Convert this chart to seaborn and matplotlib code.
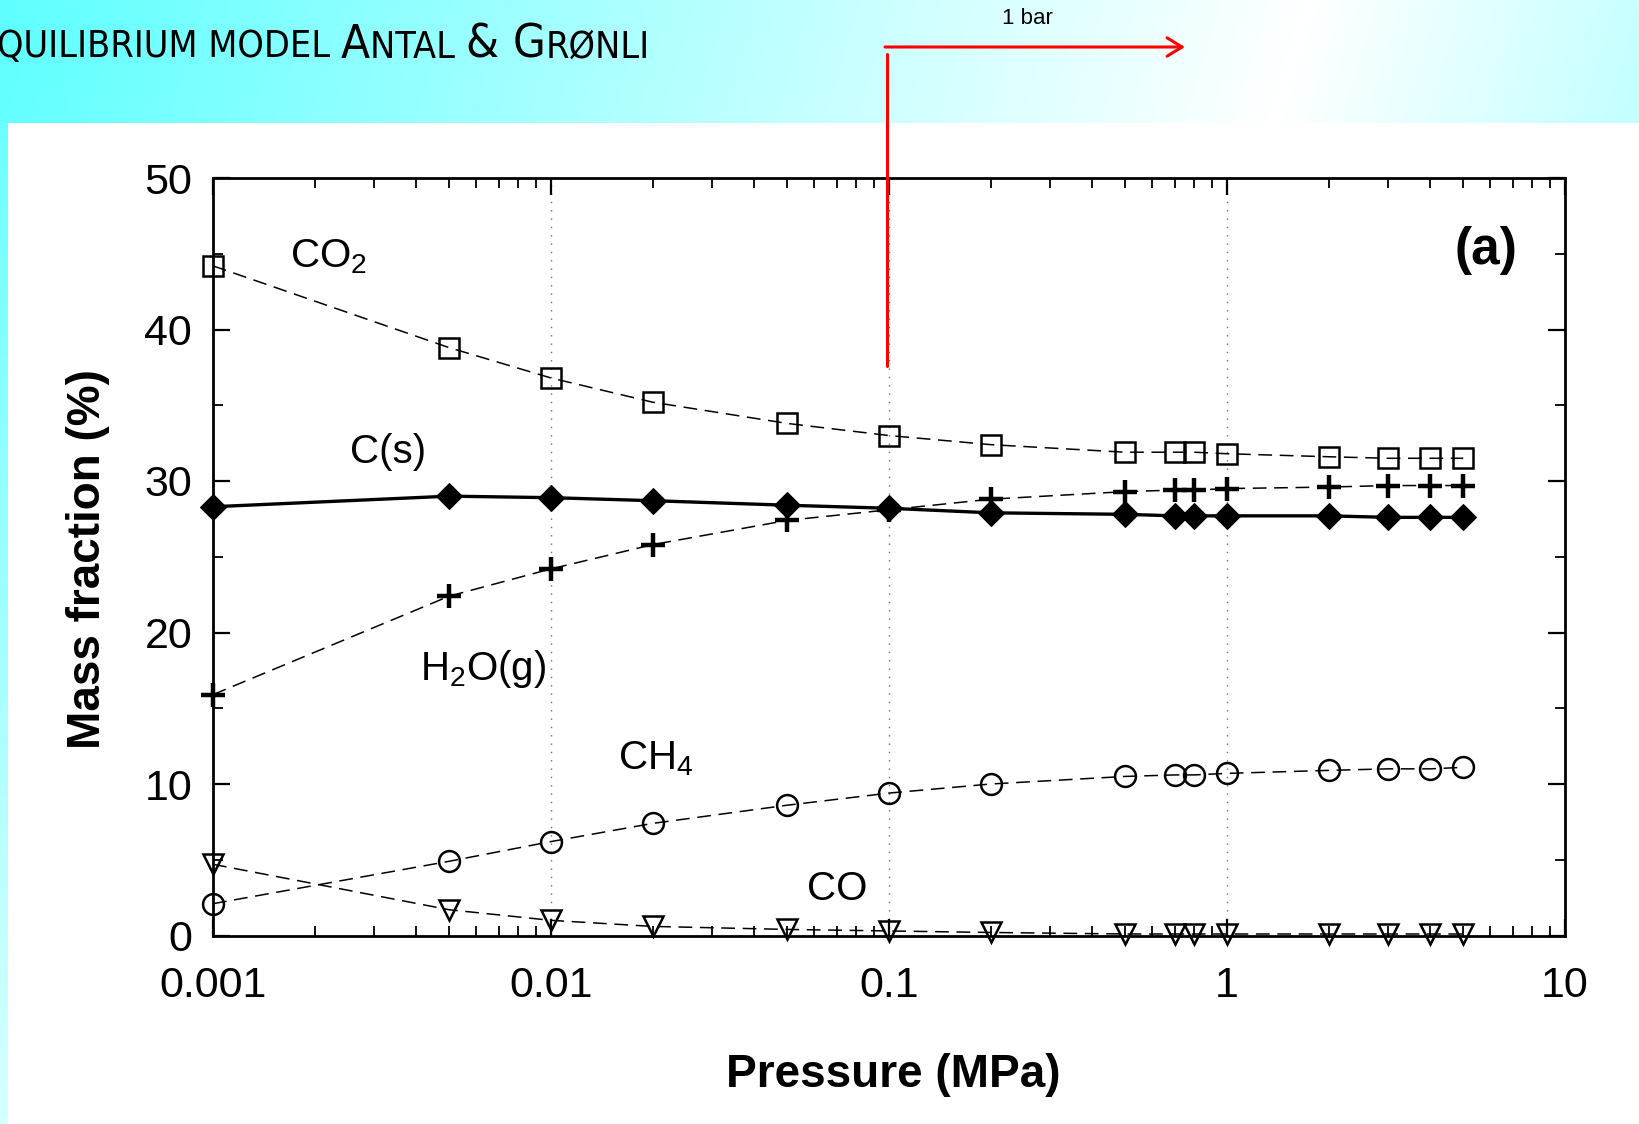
import numpy as np
import seaborn as sns
import matplotlib.pyplot as plt
from matplotlib.ticker import FuncFormatter, MultipleLocator, LogLocator

# pressure (MPa) and mass fractions (%)
pressure = [0.001, 0.005, 0.01, 0.02, 0.05, 0.1, 0.2, 0.5, 0.7, 0.8, 1, 2, 3, 4, 5]
co2 = [44.2, 38.8, 36.8, 35.2, 33.8, 33.0, 32.4, 31.9, 31.9, 31.9, 31.8, 31.6, 31.5, 31.5, 31.5]
carbon = [28.3, 29.0, 28.9, 28.7, 28.4, 28.2, 27.9, 27.8, 27.7, 27.7, 27.7, 27.7, 27.6, 27.6, 27.6]
h2o = [15.9, 22.4, 24.2, 25.8, 27.4, 28.1, 28.8, 29.3, 29.4, 29.4, 29.5, 29.6, 29.7, 29.7, 29.7]
ch4 = [2.1, 4.9, 6.2, 7.4, 8.6, 9.4, 10.0, 10.5, 10.6, 10.6, 10.7, 10.9, 11.0, 11.0, 11.1]
co = [4.7, 1.7, 1.0, 0.6, 0.4, 0.3, 0.2, 0.1, 0.1, 0.1, 0.1, 0.1, 0.1, 0.1, 0.1]

x_ticks = [0.001, 0.01, 0.1, 1, 10]
y_ticks = [0, 10, 20, 30, 40, 50]

W, H = 1639, 1124

sns.set_theme(style="ticks")
plt.rcParams["font.family"] = ["Liberation Sans", "DejaVu Sans"]

fig = plt.figure(figsize=(W / 100, H / 100), dpi=100)

# slide background: cyan gradient header + left strip, white panel
yy, xx = np.mgrid[0:H, 0:W]
t = (xx + 0.3 * yy) / W
tw = 0.80
r = np.where(t < tw, 95 + 160 * t / tw, 255 - 55 * (t - tw) / (1 - tw))
r = np.clip(r, 95, 255)
strip = 95 + 120 * yy / H
r = np.where((yy >= 123) & (xx < 8), strip, r)
r = np.where((yy >= 123) & (xx >= 8), 255, r)
bg = np.dstack([r / 255, np.ones_like(r), np.ones_like(r)])
fig.figimage(bg, xo=0, yo=0, origin="upper", zorder=-5)

ax = fig.add_axes([213 / W, 1 - 935.5 / H, (1565 - 213) / W, (935.5 - 178) / H])
ax.set_facecolor("white")

dash = (0, (9, 5))
common = dict(color="black", errorbar=None, ax=ax, legend=False)
sns.lineplot(x=pressure, y=co2, marker="s", markersize=14, mfc="none", mec="black",
             mew=1.8, lw=1.1, linestyle=dash, **common)
sns.lineplot(x=pressure, y=h2o, marker="+", markersize=17, mec="black",
             mew=3.2, lw=1.1, linestyle=dash, **common)
sns.lineplot(x=pressure, y=ch4, marker="o", markersize=15, mfc="none", mec="black",
             mew=1.8, lw=1.1, linestyle=dash, **common)
sns.lineplot(x=pressure, y=co, marker="v", markersize=14, mfc="none", mec="black",
             mew=1.8, lw=1.1, linestyle=dash, **common)
sns.lineplot(x=pressure, y=carbon, marker="D", markersize=13, mfc="black", mec="black",
             lw=2.4, linestyle="-", **common)

for ln in ax.lines:
    ln.set_clip_on(False)

ax.set_xscale("log")
ax.set_xlim(0.001, 10)
ax.set_ylim(0, 50)
ax.set_xticks(x_ticks)
ax.xaxis.set_major_formatter(FuncFormatter(lambda v, p: f"{v:g}"))
ax.xaxis.set_minor_locator(LogLocator(base=10, subs=np.arange(2, 10)))
ax.xaxis.set_minor_formatter(FuncFormatter(lambda v, p: ""))
ax.set_yticks(y_ticks)
ax.yaxis.set_minor_locator(MultipleLocator(5))

for v in x_ticks[1:-1]:
    ax.axvline(v, color="0.45", lw=1.0, linestyle=(0, (1, 5)), zorder=0.5)

ax.tick_params(which="both", direction="in", top=True, right=True, color="black")
ax.tick_params(which="major", length=12, width=1.6, labelsize=31, labelcolor="black")
ax.tick_params(axis="x", which="major", pad=22)
ax.tick_params(axis="y", which="major", pad=15)
ax.tick_params(which="minor", length=7, width=1.3)
for s in ax.spines.values():
    s.set_linewidth(2.0)
    s.set_color("black")

ax.set_xlabel("Pressure (MPa)", fontsize=33, fontweight="bold", color="black")
ax.set_ylabel("Mass fraction (%)", fontsize=33, fontweight="bold", color="black")
ax.xaxis.set_label_coords(0.503, -0.155)
ax.yaxis.set_label_coords(-0.076, 0.497)

lab = dict(fontsize=29, color="black", ha="center", va="center")
ax.text(0.0022, 44.8, r"CO$_\mathregular{2}$", **lab)
ax.text(0.0033, 31.9, "C(s)", **lab)
ax.text(0.0063, 17.6, r"H$_\mathregular{2}$O(g)", **lab)
ax.text(0.0204, 11.7, r"CH$_\mathregular{4}$", **lab)
ax.text(0.0703, 3.1, "CO", **lab)
ax.text(5.82, 45.2, "(a)", fontsize=37, fontweight="bold", color="black",
        ha="center", va="center")

# "1 bar" marker in red
fig.add_artist(plt.Line2D([887 / W, 887 / W], [1 - 54 / H, 1 - 366 / H],
                          transform=fig.transFigure, color="red", lw=2.2))
fig.text(1027 / W, 1 - 18 / H, "1 bar", fontsize=16, color="black",
         ha="center", va="center")
ax.annotate("", xy=(1185, H - 47), xytext=(885, H - 47), xycoords="figure pixels",
            textcoords="figure pixels", annotation_clip=False,
            arrowprops=dict(arrowstyle="->,head_length=0.9,head_width=0.55",
                            color="red", lw=2.2, shrinkA=0, shrinkB=0))

# slide title in small caps
renderer = fig.canvas.get_renderer()
pieces = [("QUILIBRIUM MODEL ", 27), ("A", 34), ("NTAL ", 27), ("& ", 34),
          ("G", 34), ("RØNLI", 27)]
xpos = -3
for txt, size in pieces:
    tt = fig.text(xpos / W, 1 - 57.5 / H, txt, fontsize=size, color="black",
                  family=["DejaVu Sans"], fontstretch="condensed",
                  fontweight="normal", ha="left", va="baseline")
    bb = tt.get_window_extent(renderer)
    xpos += bb.width

fig.savefig("out.png", dpi=100)
